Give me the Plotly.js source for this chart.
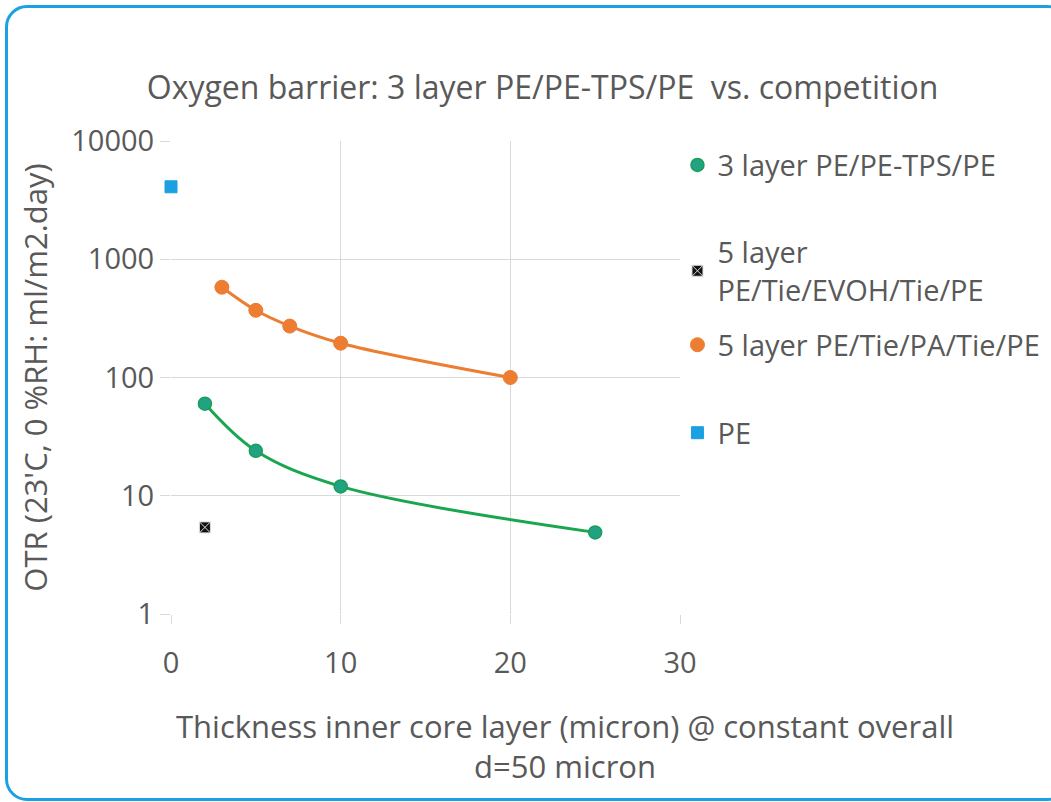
<!DOCTYPE html>
<html>
<head>
<meta charset="utf-8">
<script src="https://cdn.plot.ly/plotly-3.0.1.min.js"></script>
<style>
html,body{margin:0;padding:0;background:#fff;overflow:hidden;}
#frame{position:absolute;left:5px;top:5px;width:1065px;height:796px;border:3px solid #1ba1e2;border-radius:22px;box-sizing:border-box;}
#chart{position:absolute;left:0;top:0;width:1051px;height:802px;}
</style>
</head>
<body>
<div id="frame"></div>
<div id="chart"></div>
<script>
// Data
const tpsX = [2, 5, 10, 25];
const tpsY = [60, 24, 12, 4.9];
const evohX = [2];
const evohY = [5.4];
const paX = [3, 5, 7, 10, 20];
const paY = [580, 370, 272, 195, 100];
const peX = [0];
const peY = [4100];
const seriesNames = ["3 layer PE/PE-TPS/PE", "5 layer<br>PE/Tie/EVOH/Tie/PE", "5 layer PE/Tie/PA/Tie/PE", "PE"];
const yTickVals = [1, 10, 100, 1000, 10000];
const yTickText = ["1", "10", "100", "1000", "10000"];
const xTickVals = [0, 10, 20, 30];

const green = "#1aa64f";
const orange = "#ed7d31";
const grey = "#595959";
const legFont = {size: 29, color: grey};

function leg(y) {
  return {x: 0.995, xanchor: "left", y: y, yanchor: "middle", font: legFont,
          bgcolor: "rgba(0,0,0,0)", itemwidth: 30};
}

const traces = [
  {x: tpsX, y: tpsY, mode: "lines", line: {color: green, width: 3, shape: "spline"}, showlegend: false, hoverinfo: "skip", cliponaxis: false},
  {x: paX, y: paY, mode: "lines", line: {color: orange, width: 3, shape: "spline"}, showlegend: false, hoverinfo: "skip", cliponaxis: false},
  {x: tpsX, y: tpsY, mode: "markers", name: seriesNames[0], legend: "legend", cliponaxis: false,
   marker: {symbol: "circle", size: 13, color: "#21a383", line: {color: "#1a9e5a", width: 1.5}}},
  {x: evohX, y: evohY, mode: "markers", name: seriesNames[1], legend: "legend2", cliponaxis: false,
   marker: {symbol: "square-x", size: 11, color: "#111", line: {color: "#ddd", width: 1}}},
  {x: paX, y: paY, mode: "markers", name: seriesNames[2], legend: "legend3", cliponaxis: false,
   marker: {symbol: "circle", size: 14, color: orange, line: {color: orange, width: 1}}},
  {x: peX, y: peY, mode: "markers", name: seriesNames[3], legend: "legend4", cliponaxis: false,
   marker: {symbol: "square", size: 12, color: "#1ba1e2", line: {color: "#1ba1e2", width: 1}}}
];

const layout = {
  width: 1051, height: 802,
  paper_bgcolor: "rgba(0,0,0,0)", plot_bgcolor: "rgba(0,0,0,0)",
  margin: {l: 171, r: 371, t: 141, b: 188, autoexpand: false},
  font: {family: "Open Sans, sans-serif", color: grey, size: 29},
  title: {text: "Oxygen barrier: 3 layer PE/PE-TPS/PE  vs. competition", font: {size: 32, color: grey},
          xref: "paper", x: 0.73, xanchor: "center", yref: "container", y: 0.89, yanchor: "middle"},
  xaxis: {range: [0, 30], tickvals: xTickVals, showgrid: true, gridcolor: "#d9d9d9", gridwidth: 1,
          zeroline: false, showline: false, ticks: "outside", ticklen: 9, tickcolor: "#d9d9d9",
          ticklabelstandoff: 14, tickfont: {size: 29, color: grey}, fixedrange: true},
  yaxis: {type: "log", range: [0, 4], tickvals: yTickVals, ticktext: yTickText, showgrid: true,
          gridcolor: "#d9d9d9", gridwidth: 1, zeroline: false, showline: false, ticks: "outside",
          ticklen: 10, tickcolor: "#d9d9d9", tickfont: {size: 29, color: grey}, fixedrange: true,
          title: {text: "OTR (23'C, 0 %RH: ml/m2.day)", font: {size: 31, color: grey}, standoff: 14}},
  legend: leg(0.949),
  legend2: leg(0.725),
  legend3: leg(0.569),
  legend4: leg(0.383),
  annotations: [
    {text: "Thickness inner core layer (micron) @ constant overall<br>d=50 micron", xref: "paper", yref: "paper",
     x: 0.774, y: -0.279, xanchor: "center", yanchor: "middle", showarrow: false,
     font: {size: 31, color: grey}, align: "center"}
  ]
};

Plotly.newPlot("chart", traces, layout, {displayModeBar: false, staticPlot: true});
</script>
</body>
</html>
